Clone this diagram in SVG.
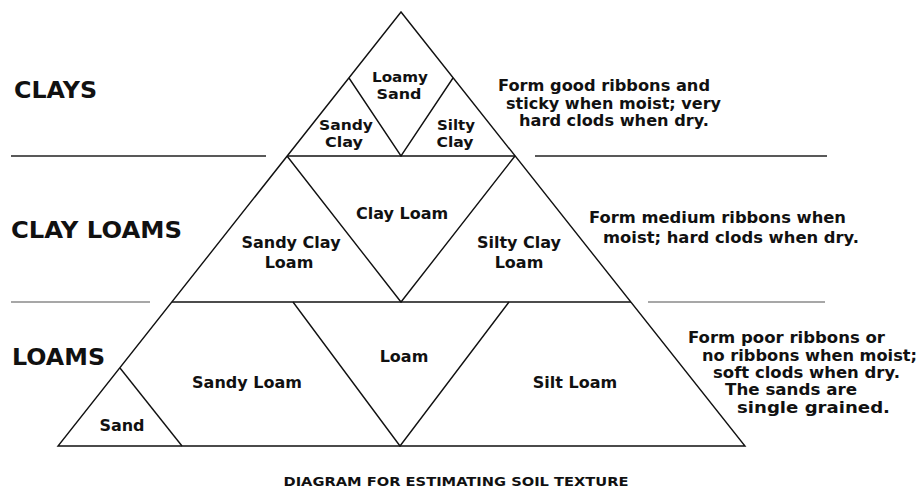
<svg xmlns="http://www.w3.org/2000/svg" width="918" height="493" viewBox="0 0 918 493">
<style>
.ln{stroke:#111;stroke-width:1.4;fill:none;stroke-linejoin:miter}
.sep{stroke:#222;stroke-width:1.3}
.sepg{stroke:#8a8a8a;stroke-width:1.6}
.t{font-family:"DejaVu Sans","Liberation Sans",sans-serif;font-weight:bold;fill:#111}
.lab{font-size:16px;text-anchor:middle}
.sm{font-size:14.5px}
.head{font-size:23px}
.desc{font-size:15px}
.cap{font-size:11.5px;text-anchor:middle}
</style>
<rect width="918" height="493" fill="#fff"/>
<g id="separators">
<line class="sep" x1="11" y1="156" x2="266" y2="156"/>
<line class="sep" x1="535" y1="156" x2="827" y2="156"/>
<line class="sepg" x1="11" y1="302" x2="150" y2="302"/>
<line class="sepg" x1="648" y1="302" x2="825" y2="302"/>
</g>
<g id="pyramid">
<polygon class="ln" points="401,12 58,446 745,446"/>
<line class="ln" x1="287" y1="156" x2="515" y2="156"/>
<line class="ln" x1="172" y1="302" x2="631" y2="302"/>
<polyline class="ln" points="349,78 401,156 453,78"/>
<polyline class="ln" points="287,156 401,302 515,156"/>
<polyline class="ln" points="293,302 400,446 509,302"/>
<line class="ln" x1="120" y1="368" x2="182" y2="446"/>
</g>
<g id="headings">
<text class="t head" x="14" y="98" textLength="83" lengthAdjust="spacingAndGlyphs">CLAYS</text>
<text class="t head" x="11" y="238" textLength="171" lengthAdjust="spacingAndGlyphs">CLAY LOAMS</text>
<text class="t head" x="12" y="365" textLength="93" lengthAdjust="spacingAndGlyphs">LOAMS</text>
</g>
<g id="zone-loamy-sand"><text class="t lab sm" x="400" y="82" textLength="56" lengthAdjust="spacingAndGlyphs">Loamy</text><text class="t lab sm" x="399" y="99" textLength="45" lengthAdjust="spacingAndGlyphs">Sand</text></g>
<g id="zone-sandy-clay"><text class="t lab sm" x="346" y="130" textLength="54" lengthAdjust="spacingAndGlyphs">Sandy</text><text class="t lab sm" x="344" y="147" textLength="38" lengthAdjust="spacingAndGlyphs">Clay</text></g>
<g id="zone-silty-clay"><text class="t lab sm" x="456" y="130" textLength="38" lengthAdjust="spacingAndGlyphs">Silty</text><text class="t lab sm" x="455" y="147" textLength="37" lengthAdjust="spacingAndGlyphs">Clay</text></g>
<g id="zone-clay-loam"><text class="t lab" x="402" y="219">Clay Loam</text></g>
<g id="zone-sandy-clay-loam"><text class="t lab" x="291" y="248">Sandy Clay</text><text class="t lab" x="289" y="268">Loam</text></g>
<g id="zone-silty-clay-loam"><text class="t lab" x="519" y="248">Silty Clay</text><text class="t lab" x="519" y="268">Loam</text></g>
<g id="zone-loam"><text class="t lab" x="404" y="362">Loam</text></g>
<g id="zone-sandy-loam"><text class="t lab" x="247" y="388">Sandy Loam</text></g>
<g id="zone-silt-loam"><text class="t lab" x="575" y="388">Silt Loam</text></g>
<g id="zone-sand"><text class="t lab" x="122" y="431">Sand</text></g>
<g id="desc-clays">
<text class="t desc" x="498" y="91" textLength="212" lengthAdjust="spacingAndGlyphs">Form good ribbons and</text>
<text class="t desc" x="506" y="109" textLength="215" lengthAdjust="spacingAndGlyphs">sticky when moist; very</text>
<text class="t desc" x="519" y="126" textLength="190" lengthAdjust="spacingAndGlyphs">hard clods when dry.</text>
</g>
<g id="desc-clay-loams">
<text class="t desc" x="589" y="223" textLength="257" lengthAdjust="spacingAndGlyphs">Form medium ribbons when</text>
<text class="t desc" x="603" y="243" textLength="256" lengthAdjust="spacingAndGlyphs">moist; hard clods when dry.</text>
</g>
<g id="desc-loams">
<text class="t desc" x="688" y="343" textLength="197" lengthAdjust="spacingAndGlyphs">Form poor ribbons or</text>
<text class="t desc" x="702" y="361" textLength="215" lengthAdjust="spacingAndGlyphs">no ribbons when moist;</text>
<text class="t desc" x="713" y="378" textLength="187" lengthAdjust="spacingAndGlyphs">soft clods when dry.</text>
<text class="t desc" x="725" y="395" textLength="132" lengthAdjust="spacingAndGlyphs">The sands are</text>
<text class="t desc" x="737" y="413" textLength="153" lengthAdjust="spacingAndGlyphs">single grained.</text>
</g>
<g id="caption"><text class="t cap" x="456" y="486" textLength="345" lengthAdjust="spacingAndGlyphs">DIAGRAM FOR ESTIMATING SOIL TEXTURE</text></g>
</svg>
